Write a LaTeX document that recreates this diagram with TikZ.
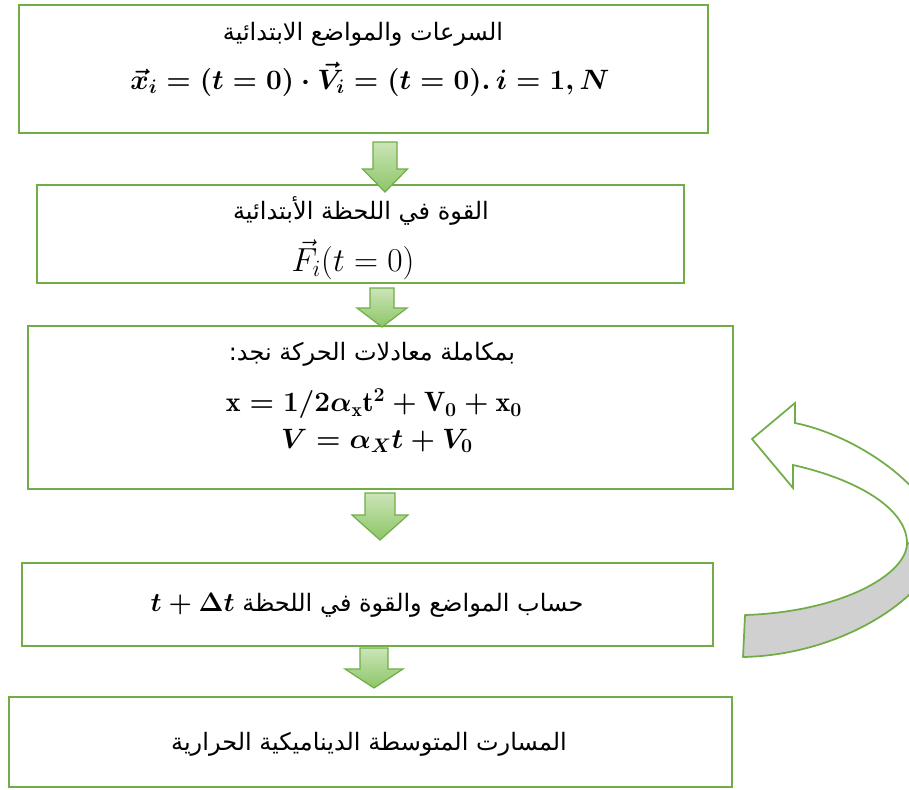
\RequirePackage{fix-cm}
\documentclass[tikz,border=0pt]{standalone}
\usepackage{amsmath}
\usepackage{bm}
\usepackage{fontspec}
\newfontfamily\arabicfont[Script=Arabic]{DejaVu Sans}
\TeXXeTstate=1
\definecolor{ggreen}{HTML}{70AD47}
\definecolor{glight}{HTML}{CBE4B8}
\definecolor{gdark}{HTML}{8DC667}
\definecolor{bandgrey}{HTML}{D0D0D0}
\newcommand\blockarrow[6]{% cx, ytop, yhead, ytip, shaft half, head half
  \path[barrow] (#1-#5,#2) -- (#1+#5,#2) -- (#1+#5,#3) -- (#1+#6,#3) -- (#1,#4) -- (#1-#6,#3) -- (#1-#5,#3) -- cycle;}
\begin{document}
\begin{tikzpicture}[x=0.75pt,y=-0.75pt,
  boxnode/.style={draw=ggreen,line width=1.6pt,rectangle,inner sep=0pt,fill=white},
  artext/.style={inner sep=0pt,font=\arabicfont\fontsize{18}{21}\selectfont},
  mtext/.style={inner sep=0pt,font=\fontsize{21}{24}\selectfont},
  barrow/.style={draw=ggreen,line width=0.9pt,top color=glight,bottom color=gdark},
  band/.style={draw=ggreen,line width=1.3pt,fill=bandgrey,line join=round},
  front/.style={draw=ggreen,line width=1.3pt,fill=white,line join=miter}]
\useasboundingbox (0,0) rectangle (909,789);
% boxes
\node[boxnode,minimum width=516.75pt,minimum height=96pt] (b1) at (363.5,69) {};
\node[boxnode,minimum width=485.25pt,minimum height=73.5pt] (b2) at (360.5,234) {};
\node[boxnode,minimum width=528.75pt,minimum height=122.25pt] (b3) at (380.5,407.5) {};
\node[boxnode,minimum width=518.25pt,minimum height=62.25pt] (b4) at (367.5,604.5) {};
\node[boxnode,minimum width=542.25pt,minimum height=67.5pt] (b5) at (370.5,742) {};
% texts
\node[artext] (t1a) at (363,34) {\beginR السرعات والمواضع الابتدائية\endR};
\node[mtext] (t1b) at (370,79) {{\boldmath$\vec{x}_i = (t = 0)\cdot\vec{V}_i = (t = 0).\,i = 1, N$}};
\node[artext] (t2a) at (361,211) {\beginR القوة في اللحظة الأبتدائية\endR};
\node[mtext,font=\fontsize{25}{28}\selectfont] (t2b) at (353,260) {$\vec{F}_i(t = 0)$};
\node[artext] (t3a) at (372,354) {\beginR بمكاملة معادلات الحركة نجد:\endR};
\node[mtext] (t3b) at (374,404) {{\boldmath$\mathrm{x} = 1/2\alpha_{\mathrm{x}}\mathrm{t}^{2} + \mathrm{V}_{0} + \mathrm{x}_{0}$}};
\node[mtext] (t3c) at (377,441) {{\boldmath$V = \alpha_{X}t + V_{0}$}};
\node[artext] (t4) at (367,605) {\beginR حساب المواضع والقوة في اللحظة \beginL{\fontsize{20}{23}\selectfont\boldmath$t + \Delta t$}\endL\endR};
\node[artext] (t5) at (369,744) {\beginR المسارت المتوسطة الديناميكية الحرارية\endR};
% block arrows
\blockarrow{385}{142}{169}{192}{12}{22.5}
\blockarrow{382}{288}{308}{327}{12}{25}
\blockarrow{380}{493}{515}{540}{15}{28}
\blockarrow{374}{648}{669}{688}{14}{29}
% curved loop arrow
\begin{scope}
\clip (0,0) rectangle (909,789);
\path[band] (743,657) .. controls (840,655) and (925,600) .. (940,550) -- (907,543) .. controls (907,575) and (840,612) .. (745,615) -- cycle;
\path[front] (793,488) -- (752,439) -- (795,403) -- (795,423) .. controls (860,436) and (945,495) .. (940,550) -- (907,543) .. controls (907,510) and (860,480) .. (793,465) -- cycle;
\end{scope}
\end{tikzpicture}
\end{document}
